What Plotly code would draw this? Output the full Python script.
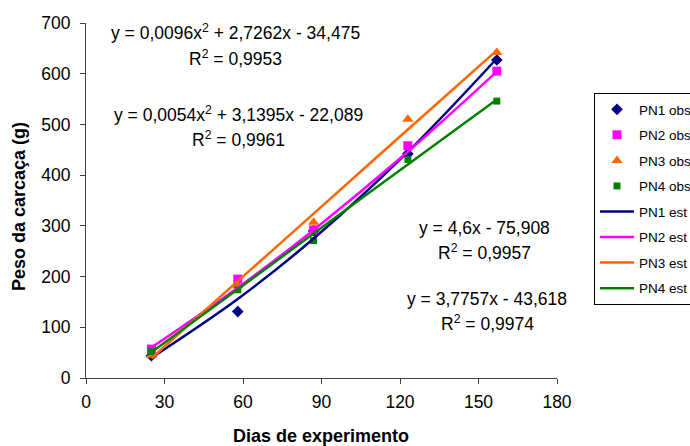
import plotly.graph_objects as go

# Observed data
days = [25, 58, 87, 123, 157]
pn1_obs = [44, 131, 290, 442, 627]
pn2_obs = [57, 195, 292, 458, 605]
pn3_obs = [45, 182, 307, 510, 642]
pn4_obs = [52, 174, 271, 431, 546]

# Estimated (fitted) curves
pn1_est = [40, 156, 275, 446, 630]
pn2_est = [60, 178, 292, 446, 604]
pn3_est = [39, 191, 324, 490, 646]
pn4_est = [51, 175, 285, 421, 549]

x_title = "Dias de experimento"
y_title = "Peso da carcaça (g)"

colors = {"PN1": "#000080", "PN2": "#FF00FF", "PN3": "#FF6600", "PN4": "#008000"}

equations = [
    ("y = 0,0096x<sup>2</sup> + 2,7262x - 34,475", "R<sup>2</sup> = 0,9953"),
    ("y = 0,0054x<sup>2</sup> + 3,1395x - 22,089", "R<sup>2</sup> = 0,9961"),
    ("y = 4,6x - 75,908", "R<sup>2</sup> = 0,9957"),
    ("y = 3,7757x - 43,618", "R<sup>2</sup> = 0,9974"),
]
eq_pos = [(235, 32, 58), (238, 114, 139), (484, 228, 252), (487, 299, 323)]

FONT = "Liberation Sans, Arial"
FS = 17.5

fig = go.Figure()

obs = [("PN1 obs", pn1_obs, "diamond", 9, colors["PN1"]),
       ("PN2 obs", pn2_obs, "square", 9, colors["PN2"]),
       ("PN3 obs", pn3_obs, "triangle-up", 10, colors["PN3"]),
       ("PN4 obs", pn4_obs, "square", 7, colors["PN4"])]
for i, (name, ys, sym, sz, col) in enumerate(obs):
    fig.add_trace(go.Scatter(x=days, y=ys, mode="markers", name=name,
                             legendgroup=str(i),
                             marker=dict(symbol=sym, size=sz, color=col)))

est = [("PN1 est", pn1_est, colors["PN1"]),
       ("PN2 est", pn2_est, colors["PN2"]),
       ("PN3 est", pn3_est, colors["PN3"]),
       ("PN4 est", pn4_est, colors["PN4"])]
for i, (name, ys, col) in enumerate(est):
    fig.add_trace(go.Scatter(x=days, y=ys, mode="lines", name=name,
                             legendgroup=str(10 + i),
                             line=dict(color=col, width=2.5, shape="spline")))

W, H = 690, 446
L, R, T, B = 86, 133, 23, 68
pw, ph = W - L - R, H - T - B

def px(xp):
    return (xp - L) / pw

def py(yp):
    return 1 - (yp - T) / ph

ann = []
for (eq, r2), (cx, y1, y2) in zip(equations, eq_pos):
    for txt, yy in ((eq, y1), (r2, y2)):
        ann.append(dict(text=txt, xref="paper", yref="paper",
                        x=px(cx), y=py(yy),
                        xanchor="center", yanchor="middle", showarrow=False,
                        font=dict(family=FONT, size=FS, color="#000")))

ann.append(dict(text="<b>%s</b>" % x_title, xref="paper", yref="paper",
                x=px(321), y=py(436), xanchor="center", yanchor="middle",
                showarrow=False, font=dict(family=FONT, size=18, color="#000")))
ann.append(dict(text="<b>%s</b>" % y_title, xref="paper", yref="paper",
                x=px(19), y=py(207), xanchor="center", yanchor="middle",
                textangle=-90, showarrow=False,
                font=dict(family=FONT, size=18, color="#000")))

fig.update_layout(
    width=W, height=H,
    margin=dict(l=L, r=R, t=T, b=B, autoexpand=False),
    paper_bgcolor="white", plot_bgcolor="white",
    font=dict(family=FONT, size=FS, color="#000"),
    showlegend=True,
    legend=dict(x=px(594), y=py(93), xanchor="left", yanchor="top",
                bordercolor="#000", borderwidth=1, bgcolor="white",
                font=dict(size=13.5), tracegroupgap=5,
                itemwidth=34),
    annotations=ann,
)
fig.update_xaxes(range=[0, 180], dtick=30, tick0=0, showgrid=False, zeroline=False,
                 showline=True, linecolor="#404040", linewidth=1, automargin=False,
                 ticks="outside", ticklen=5, tickcolor="#404040",
                 ticklabelstandoff=3,
                 tickfont=dict(size=FS))
fig.update_yaxes(range=[0, 700], dtick=100, tick0=0, showgrid=False, zeroline=False,
                 showline=True, linecolor="#404040", linewidth=1, automargin=False,
                 ticks="outside", ticklen=5, tickcolor="#404040",
                 ticklabelstandoff=6,
                 tickfont=dict(size=FS))

fig.write_html("out.html", config={"displayModeBar": False},
               post_script="document.body.style.margin='0';document.body.style.overflow='hidden';")
